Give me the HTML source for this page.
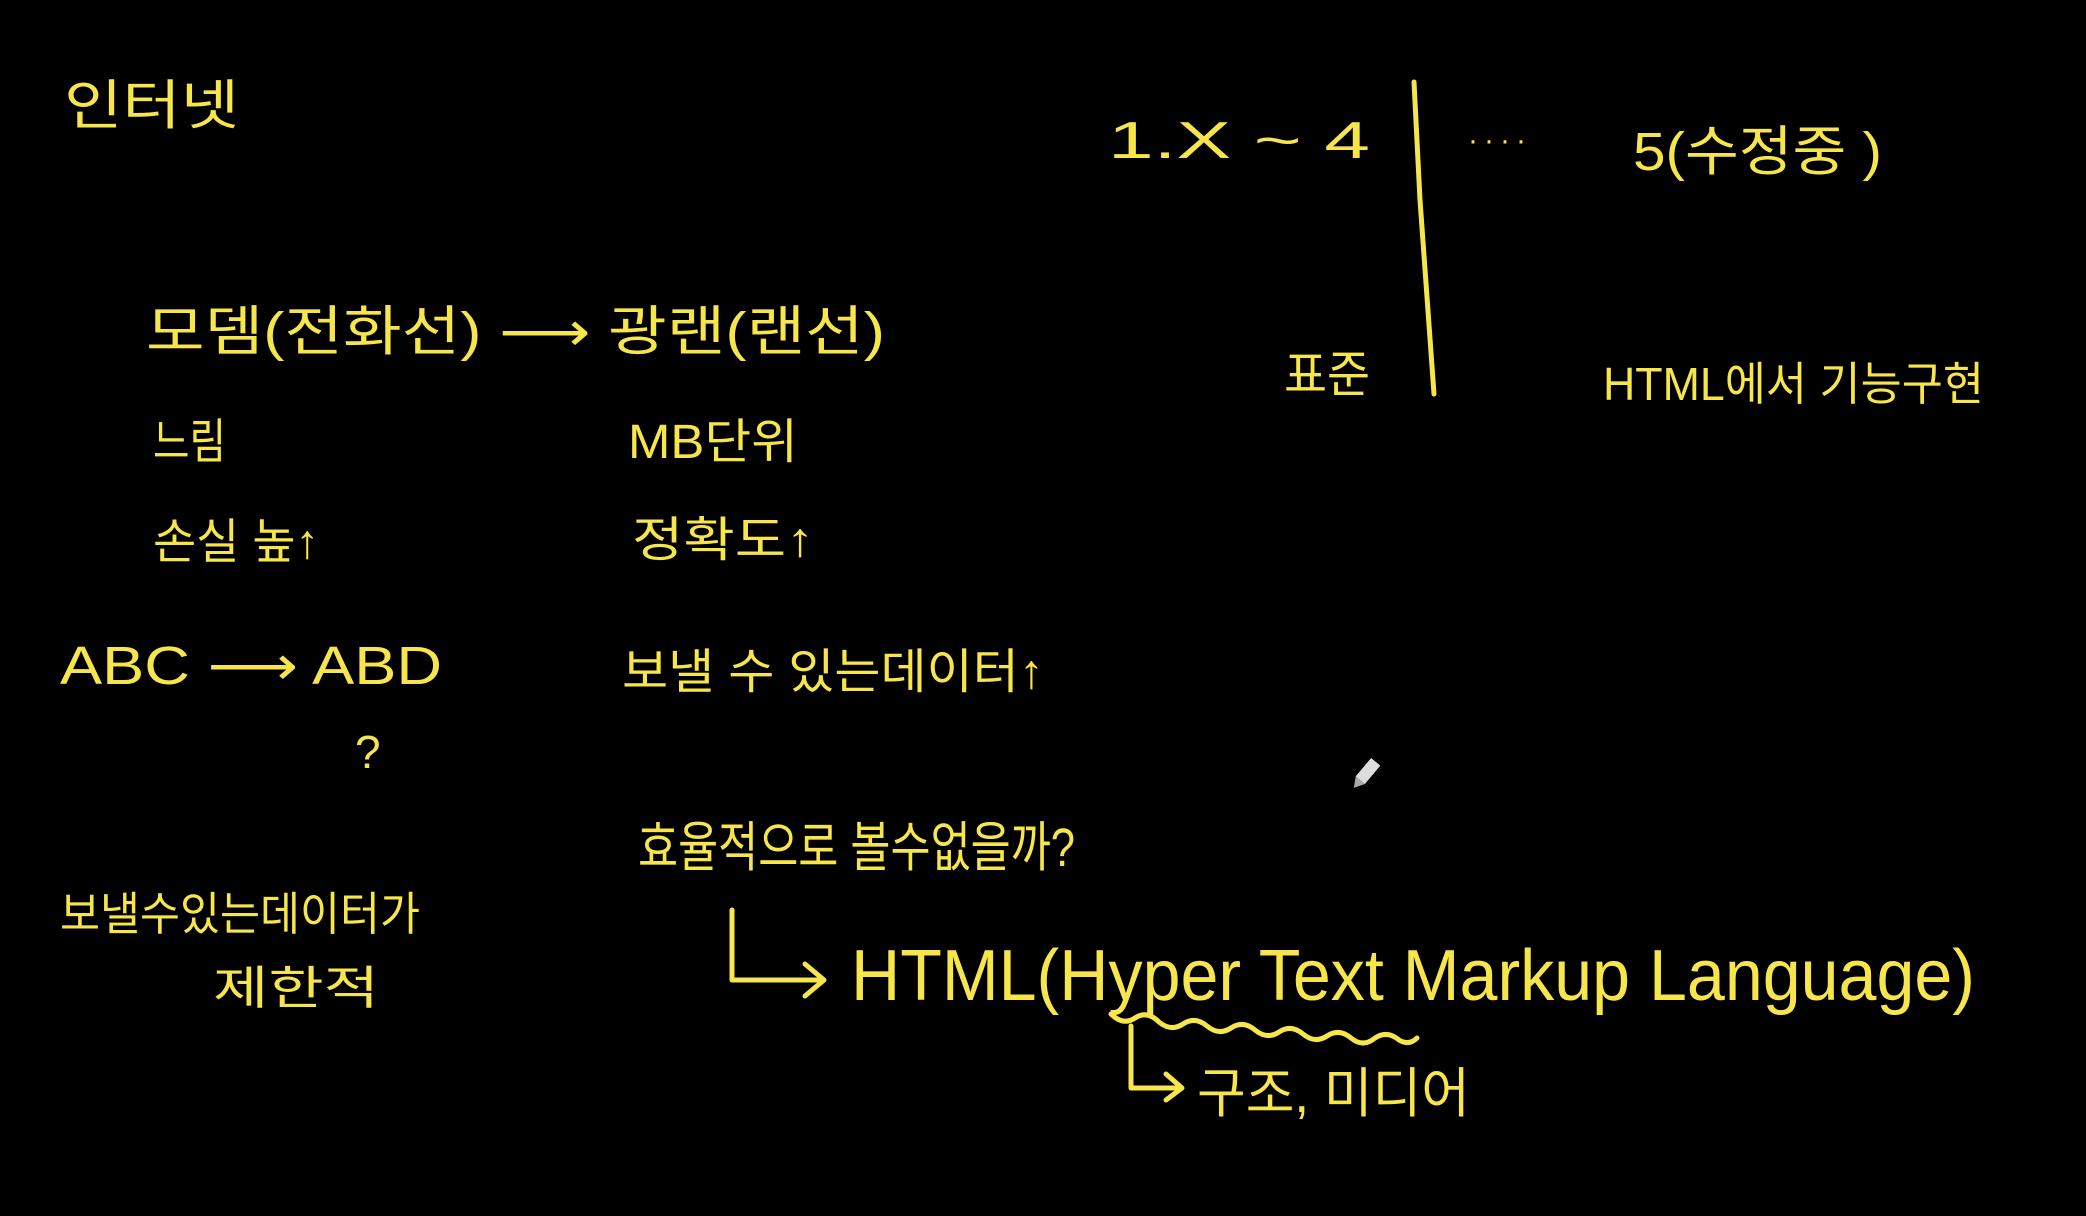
<!DOCTYPE html>
<html><head><meta charset="utf-8"><style>
html,body{margin:0;padding:0;background:#000;}
svg{display:block}
text{font-family:"Liberation Sans","Noto Sans CJK KR","NanumGothic",sans-serif;fill:#f7e64b;}
</style></head><body>
<svg width="2086" height="1216" viewBox="0 0 2086 1216" xmlns="http://www.w3.org/2000/svg">
<rect width="2086" height="1216" fill="#000"/>
<g stroke="#f7e64b" stroke-width="5" fill="none" stroke-linecap="round" stroke-linejoin="round">
<path d="M1414 82 L1420 200 L1434 394"/>
<path d="M732 910 L732 980 L822 980"/>
<path d="M805 964 L824 980 L805 996"/>
<path d="M1111 1014 q12 12 24 4 q12 -8 24 4 q12 10 24 2 q12 -8 24 2 q12 10 24 2 q12 -8 24 2 q12 10 24 2 q12 -8 24 2 q12 10 24 2 q12 -8 24 2 q12 10 24 0 q12 -8 24 2 q10 6 18 -2"/>
<path d="M1131 1026 L1131 1088 L1180 1088"/>
<path d="M1166 1074 L1182 1088 L1166 1100"/>
</g>
<text x="64" y="124" font-size="54" textLength="175" lengthAdjust="spacingAndGlyphs">인터넷</text>
<text x="1108" y="158" font-size="52" textLength="262" lengthAdjust="spacingAndGlyphs">1.X  ~  4</text>
<text x="1468" y="150" font-size="30" letter-spacing="6">····</text>
<text x="1633" y="170" font-size="54" textLength="249" lengthAdjust="spacingAndGlyphs">5(수정중 )</text>
<text x="1284" y="392" font-size="50" textLength="86" lengthAdjust="spacingAndGlyphs">표준</text>
<text x="1603" y="400" font-size="46" textLength="381" lengthAdjust="spacingAndGlyphs">HTML에서 기능구현</text>
<text x="146" y="350" font-size="54" textLength="739" lengthAdjust="spacingAndGlyphs">모뎀(전화선) ⟶ 광랜(랜선)</text>
<text x="153" y="458" font-size="48" textLength="73" lengthAdjust="spacingAndGlyphs">느림</text>
<text x="628" y="458" font-size="48" textLength="170" lengthAdjust="spacingAndGlyphs">MB단위</text>
<text x="153" y="558" font-size="48" textLength="166" lengthAdjust="spacingAndGlyphs">손실 높↑</text>
<text x="632" y="556" font-size="48" textLength="182" lengthAdjust="spacingAndGlyphs">정확도↑</text>
<text x="60" y="684" font-size="54" textLength="382" lengthAdjust="spacingAndGlyphs">ABC  ⟶  ABD</text>
<text x="355" y="768" font-size="46">?</text>
<text x="622" y="688" font-size="48" textLength="422" lengthAdjust="spacingAndGlyphs">보낼 수 있는데이터↑</text>
<text x="638" y="866" font-size="54" textLength="437" lengthAdjust="spacingAndGlyphs">효율적으로 볼수없을까?</text>
<text x="60" y="930" font-size="46" textLength="360" lengthAdjust="spacingAndGlyphs">보낼수있는데이터가</text>
<text x="213" y="1004" font-size="46" textLength="166" lengthAdjust="spacingAndGlyphs">제한적</text>
<text x="851" y="1000" font-size="72" textLength="1124" lengthAdjust="spacingAndGlyphs">HTML(Hyper Text Markup Language)</text>
<text x="1197" y="1112" font-size="54" textLength="273" lengthAdjust="spacingAndGlyphs">구조, 미디어</text>
<g transform="translate(1368,771) rotate(40)">
<rect x="-6" y="-12" width="12" height="24" fill="#ddd"/>
<path d="M-6 12 L0 22 L6 12Z" fill="#aaa"/>
</g>
</svg>
</body></html>
